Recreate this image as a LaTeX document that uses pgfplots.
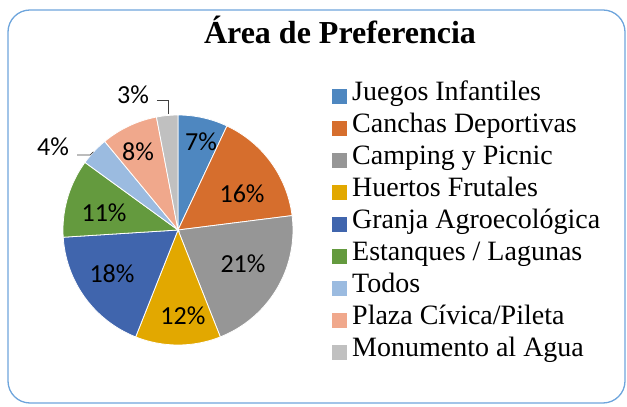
\documentclass[border=0pt]{standalone}
\usepackage{pgfplots}
\pgfplotsset{compat=1.18}
\usepackage{fontspec}
\setmainfont{Liberation Serif}
\newfontfamily\timesf{Liberation Serif}
\newfontfamily\calib{Carlito}
\definecolor{c1}{RGB}{78,135,192}
\definecolor{c2}{RGB}{214,110,45}
\definecolor{c3}{RGB}{150,150,150}
\definecolor{c4}{RGB}{226,168,0}
\definecolor{c5}{RGB}{64,101,173}
\definecolor{c6}{RGB}{100,154,62}
\definecolor{c7}{RGB}{155,187,224}
\definecolor{c8}{RGB}{240,168,140}
\definecolor{c9}{RGB}{192,192,192}
\definecolor{frame}{RGB}{110,165,220}
% slice: start%, end%, colour
\newcommand{\slice}[3]{%
  \addplot[fill=#3, draw=white, line width=0.8pt, domain=#1:#2, samples=40]
    ({sin(3.6*x)},{cos(3.6*x)}) -- (axis cs:0,0) -- cycle;}
\newcommand{\pct}[2]{\node[font=\calib\fontsize{26}{28}\selectfont, inner sep=0pt] at (axis cs:#1) {#2\%};}
\begin{document}
\begin{tikzpicture}
\useasboundingbox (0,0) rectangle (627pt,407pt);
\draw[frame, line width=1.3pt, rounded corners=22pt] (8pt,4pt) rectangle (625pt,397pt);
\begin{axis}[
  at={(0pt,0pt)}, anchor=south west,
  x=115pt, y=115pt,
  xmin=-1.5478, xmax=3.9043, ymin=-1.5391, ymax=2.0,
  hide axis, clip=false,
  legend image code/.code={\fill[#1,draw=none] (0pt,-4pt) rectangle (15pt,11pt);},
  legend style={draw=none, fill=none, at={(0.5295,0.806)}, anchor=north west,
    font=\timesf\fontsize{28}{32}\selectfont, inner sep=0pt, column sep=5pt, row sep=0pt,
    nodes={inner sep=0pt, text height=21pt, text depth=11pt, anchor=base west,
      font=\timesf\fontsize{28}{32}\selectfont}},
  legend cell align=left,
]
% Percent shares (clockwise from 12 o'clock): 7,16,21,12,18,11,4,8,3
\slice{0}{7}{c1}
\slice{7}{23}{c2}
\slice{23}{44}{c3}
\slice{44}{56}{c4}
\slice{56}{74}{c5}
\slice{74}{85}{c6}
\slice{85}{89}{c7}
\slice{89}{97}{c8}
\slice{97}{100}{c9}
\legend{Juegos Infantiles, Canchas Deportivas, Camping y Picnic, Huertos Frutales,
  Granja Agroecológica, Estanques / Lagunas, Todos, Plaza Cívica/Pileta, Monumento al Agua}
\pct{0.20,0.765}{7}
\pct{0.557,0.313}{16}
\pct{0.565,-0.296}{21}
\pct{0.043,-0.748}{12}
\pct{-0.574,-0.383}{18}
\pct{-0.643,0.148}{11}
\pct{-0.348,0.678}{8}
\pct{-1.087,0.722}{4}
\pct{-0.391,1.174}{3}
\draw[black!75, line width=0.7pt] (axis cs:-0.878,0.652) -- (axis cs:-0.765,0.652) -- (axis cs:-0.735,0.680);
\draw[black!75, line width=0.7pt] (axis cs:-0.183,1.13) -- (axis cs:-0.087,1.13) -- (axis cs:-0.087,1.005);
\node[anchor=base, font=\timesf\bfseries\fontsize{32}{36}\selectfont] at (axis cs:1.4087,1.626) {Área de Preferencia};
\end{axis}
\end{tikzpicture}
\end{document}
